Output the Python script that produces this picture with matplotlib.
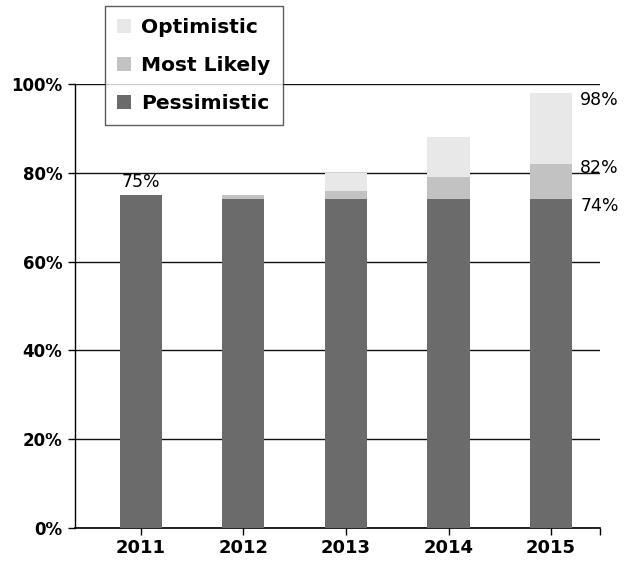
import matplotlib
matplotlib.use("Agg")
import matplotlib.pyplot as plt
from matplotlib.patches import Patch

years = ["2011", "2012", "2013", "2014", "2015"]
pessimistic = [75, 74, 74, 74, 74]
most_likely = [75, 75, 76, 79, 82]
optimistic = [75, 75, 80, 88, 98]
yticks = [0, 20, 40, 60, 80, 100]
ytick_labels = ["0%", "20%", "40%", "60%", "80%", "100%"]

c_pes = "#6b6b6b"
c_ml = "#c2c2c2"
c_opt = "#e8e8e8"

plt.rcParams['font.family'] = ['DejaVu Sans']
fig = plt.figure(figsize=(6.29, 5.62), dpi=100)
ax = fig.add_axes([0.119, 0.0605, 0.835, 0.79])

x = list(range(len(years)))
w = 0.41
ml_add = [m - p for m, p in zip(most_likely, pessimistic)]
opt_add = [o - m for o, m in zip(optimistic, most_likely)]
ax.bar(x, pessimistic, width=w, color=c_pes, zorder=3)
ax.bar(x, ml_add, width=w, bottom=pessimistic, color=c_ml, zorder=3)
ax.bar(x, opt_add, width=w, bottom=most_likely, color=c_opt, zorder=3)

ax.set_xlim(-0.644, 4.478)
ax.set_ylim(0, 100)
ax.set_yticks(yticks)
ax.set_yticklabels(ytick_labels, fontsize=12, fontweight='bold')
ax.set_xticks(x)
ax.set_xticklabels(years, fontsize=13, fontweight='bold')
ax.set_xticks([4.478], minor=True)
ax.tick_params(axis='x', which='both', direction='out', length=5, width=1, pad=3)
ax.tick_params(axis='y', direction='out', length=5, width=1, pad=4)
for s in ['top', 'right']:
    ax.spines[s].set_visible(False)
ax.spines['left'].set_linewidth(1)
ax.spines['bottom'].set_linewidth(1.2)
ax.yaxis.grid(True, color='#111111', linewidth=1.0, zorder=0)
ax.set_axisbelow(True)

# data labels
ax.text(0, pessimistic[0] + 1.0, f"{pessimistic[0]}%", ha='center', va='bottom',
        fontsize=12.5)
xr = 4 + w / 2 + 0.08
ax.text(xr, optimistic[4] - 1.5, f"{optimistic[4]}%", ha='left', va='center', fontsize=12.5)
ax.text(xr, most_likely[4] - 1.0, f"{most_likely[4]}%", ha='left', va='center', fontsize=12.5)
ax.text(xr, pessimistic[4] - 1.5, f"{pessimistic[4]}%", ha='left', va='center', fontsize=12.5)

handles = [Patch(facecolor=c_opt, label="Optimistic"),
           Patch(facecolor=c_ml, label="Most Likely"),
           Patch(facecolor=c_pes, label="Pessimistic")]
leg = fig.legend(handles=handles, loc='upper left', bbox_to_anchor=(0.167, 0.99),
                 frameon=True, fancybox=False, edgecolor='#333333',
                 prop={'size': 14.5, 'weight': 'bold'}, handlelength=0.7,
                 handleheight=0.7, handletextpad=0.5, labelspacing=0.95,
                 borderpad=0.6, borderaxespad=0)
leg.get_frame().set_linewidth(1)

fig.savefig("out.png", dpi=100)
